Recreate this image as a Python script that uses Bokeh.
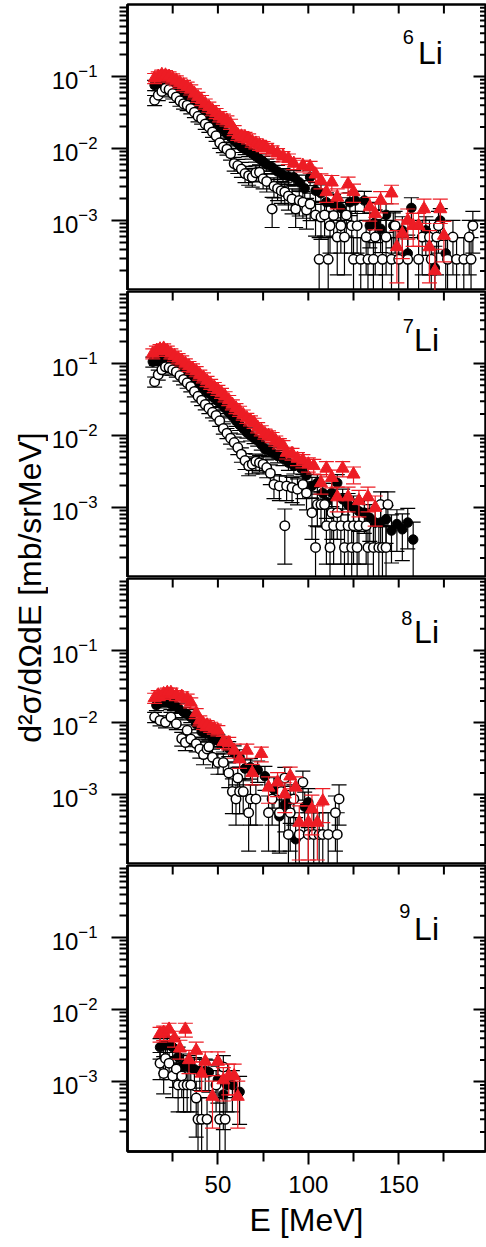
import numpy as np
from bokeh.plotting import figure
from bokeh.models import Range1d, FixedTicker, Label
from bokeh.layouts import row, column
from bokeh.embed import file_html
from bokeh.resources import INLINE
from bokeh.core.properties import value

FONT = "Liberation Sans"
RED = "#ed1c24"

# ---------------- data (E in MeV, d2sigma/dOmega dE in mb/sr MeV) ----------------
panel_names = ["6", "7", "8", "9"]
x_ticks = [50, 100, 150]
x_minor = [25, 75, 125, 175]
y_ticks = [1e-3, 1e-2, 1e-1]

# 6Li
red6_E = [15,17,19,21,23,25,27,29,31,33,35,37,39,41,43,45,47,49,51,53,55,57,59,61,63,65,67,69,71,73,75,77,
          80,83,86,89,92,97,101,104,107,110,113,116,122,125,134,137,140,146,149,152,155,158,161,164,167,170,173,175]
red6_V = [0.095,0.100,0.106,0.104,0.100,0.094,0.088,0.082,0.076,0.072,0.066,0.058,0.052,0.047,0.042,0.038,0.034,0.031,0.028,0.026,
          0.0245,0.022,0.018,0.0155,0.0148,0.0145,0.0138,0.0125,0.0118,0.0112,0.0108,0.0102,
          0.0094,0.0086,0.0078,0.0072,0.0062,0.0058,0.0056,0.0044,0.0036,0.0025,0.0034,0.0021,0.0032,0.0025,
          0.00154,0.00124,0.0019,0.0024,0.00043,0.00066,0.0010,0.00085,0.00085,0.00145,0.00043,0.0002,0.00145,0.00062]
blk6_E = [15,17,19,21,23,25,27,29,31,33,35,37,39,41,43,45,47,49,51,53,55,57,59,61,63,65,67,69,71,73,75,77,
          80,83,86,89,92,95,98,101,104,107,110,114,118,123,126,131,134,137,140,143,147,152,155,157,165,170,173,176]
blk6_V = [0.076,0.082,0.085,0.084,0.080,0.075,0.068,0.062,0.058,0.054,0.048,0.043,0.038,0.034,0.030,0.027,0.024,0.022,0.020,0.018,
          0.016,0.0145,0.013,0.0118,0.0105,0.0098,0.0092,0.0085,0.0078,0.0072,0.0066,0.0060,
          0.0055,0.0048,0.0043,0.0041,0.0040,0.0034,0.0028,0.0040,0.0026,0.0024,0.0018,0.0017,0.0015,0.0018,0.0019,0.0019,
          0.00085,0.00095,0.00077,0.0012,0.00085,0.00073,0.00035,0.0015,0.00073,0.00022,0.0010,0.00035]
open6_E = [15,17,19,21,23,25,27,29,31,33,35,37,39,41,43,45,47,49,51,53,55,57,59,61,63,65,67,69,71,73,75,77,
           80,81,83,85,87,89,91,93,95,97,99,101,104,106,107,109,111,112,114,116,118,120,121,124,125,127,129,
           132,133,136,137,139,141,143,146,148,150,155,161,163,167,168,171,172,177,180,182,186,189,190,191]
open6_V = [0.047,0.055,0.062,0.069,0.066,0.058,0.052,0.046,0.042,0.040,0.036,0.032,0.028,0.026,0.022,0.020,0.017,0.015,0.012,0.0105,
           0.0098,0.0085,0.0062,0.0058,0.0052,0.0045,0.0042,0.0040,0.0046,0.0047,0.0038,0.0035,
           0.00145,0.0030,0.0028,0.0026,0.0025,0.0022,0.0020,0.00145,0.0019,0.0018,0.0014,0.0017,
           0.0012,0.00029,0.00112,0.0012,0.00029,0.00085,0.00118,0.00059,0.00085,0.00059,0.0012,0.00085,0.00029,0.00085,0.00029,
           0.00059,0.00029,0.00029,0.00059,0.0012,0.00029,0.00059,0.00029,0.00085,0.00029,0.00029,0.00029,0.00059,0.00059,
           0.00029,0.00059,0.00085,0.00029,0.00059,0.00029,0.00029,0.00059,0.00029,0.00085]

# 7Li
red7_E = [14,16,18,20,22,24,26,28,30,32,34,36,38,40,42,44,46,48,50,52,54,56,58,60,62,64,66,68,70,72,74,76,78,80,82,84,86,88,
          91,94,97,100,103,107,110,113,116,119,122,125,128,133,137]
red7_V = [0.138,0.150,0.158,0.162,0.150,0.138,0.128,0.118,0.110,0.100,0.092,0.085,0.078,0.070,0.064,0.057,0.052,0.047,0.043,0.039,
          0.035,0.031,0.027,0.024,0.022,0.0195,0.0175,0.0162,0.0150,0.0130,0.0118,0.0106,0.0100,0.0095,0.0085,0.0078,0.0073,0.0058,
          0.0056,0.0048,0.0045,0.0040,0.0038,0.0022,0.0035,0.0026,0.0014,0.0035,0.0014,0.0029,0.00124,0.0014,0.0010]
blk7_E = [14,16,18,20,22,24,26,28,30,32,34,36,38,40,42,44,46,48,50,52,54,56,58,60,62,64,66,68,70,72,74,76,78,80,
          83,86,89,92,96,99,102,105,108,110,113,116,119,122,125,128,131,134,137,140,143,146,149,152,155,158]
blk7_V = [0.106,0.112,0.117,0.115,0.110,0.100,0.092,0.085,0.078,0.072,0.066,0.060,0.055,0.050,0.045,0.041,0.037,0.033,0.030,0.027,
          0.024,0.021,0.0185,0.016,0.0140,0.0125,0.0110,0.0100,0.0092,0.0085,0.0075,0.0065,0.0062,0.0058,
          0.0052,0.0048,0.0042,0.0038,0.0035,0.0028,0.0020,0.0022,0.0016,0.0012,
          0.0016,0.0022,0.0013,0.0011,0.0010,0.00089,0.00085,0.00072,0.00062,0.00062,0.00069,0.00048,0.00059,0.00050,0.00062,0.00036]
open7_E = [15,17,19,21,23,25,27,29,31,33,35,37,39,41,43,45,47,49,51,53,55,57,59,61,63,65,67,69,71,73,75,77,79,81,
           84,87,88,91,94,97,99,102,104,105,107,109,110,112,113,114,116,118,120,122,
           124,125,127,128,132,133,136,139,140,141,143,144]
open7_V = [0.056,0.070,0.082,0.090,0.088,0.082,0.077,0.068,0.060,0.054,0.048,0.041,0.035,0.031,0.027,0.024,0.021,0.019,0.016,0.0125,
           0.0108,0.0092,0.0080,0.0068,0.0055,0.0045,0.0038,0.0040,0.0044,0.0042,0.0040,0.0036,0.0030,0.0021,
           0.0020,0.00056,0.0020,0.0019,0.0018,0.0021,0.0016,0.00085,0.00028,0.0011,
           0.0011,0.0011,0.00056,0.00028,0.00085,0.00056,0.00085,0.00056,0.00028,0.00056,
           0.00028,0.00056,0.00028,0.00056,0.00056,0.00028,0.00028,0.00028,0.0011,0.00028,0.00028,0.0011]

# 8Li
red8_E = [15,17,20,22,24,27,30,33,35,38,40,42,44,46,48,50,53,56,59,62,66,69,74,78,83,87,90,93,95,100,102,105,108]
red8_V = [0.022,0.024,0.025,0.026,0.026,0.024,0.023,0.0214,0.019,0.0135,0.0107,0.0096,0.0092,0.0087,0.0082,0.0078,0.0054,0.0052,
          0.0041,0.0031,0.0041,0.0020,0.0037,0.00126,0.00148,0.00101,0.0018,0.00126,0.00041,0.00041,0.00063,0.00041,0.00081]
blk8_E = [16,18,21,24,26,28,31,33,35,38,41,43,45,48,50,53,56,59,62,65,68,72,76,81,84,87,90,93,98,100]
blk8_V = [0.0174,0.019,0.020,0.018,0.0174,0.016,0.014,0.013,0.0119,0.0095,0.0075,0.0072,0.0070,0.0058,0.0056,0.0050,0.0044,0.0038,
          0.0033,0.0023,0.0024,0.0022,0.0018,0.00118,0.00050,0.00072,0.00085,0.00024,0.00068,0.00078]
open8_E = [15,18,21,24,27,30,32,33,35,38,40,42,44,45,47,50,53,56,58,60,61,62,64,67,68,71,78,80,84,85,
           87,89,90,92,95,97,100,103,106,108,111,115,116,117]
open8_V = [0.0119,0.0107,0.0101,0.0119,0.0096,0.0060,0.0053,0.0078,0.0059,0.0051,0.0043,0.0036,0.0043,0.0046,0.0033,0.0028,0.0028,
           0.0020,0.0011,0.00087,0.0017,0.0011,0.0011,0.00056,0.00087,0.00087,0.00056,0.00087,0.00056,0.0011,
           0.0017,0.00028,0.00056,0.00087,0.00028,0.00148,0.00028,0.00028,0.00028,0.00028,0.00028,0.00056,0.00028,0.00087]

# 9Li
red9_E = [18,20,23,26,29,32,34,38,41,43,47,50,53,56,59,61]
red9_V = [0.0046,0.0048,0.0053,0.0040,0.0029,0.0053,0.0020,0.0027,0.0013,0.0019,0.00062,0.0019,0.00105,0.0012,0.0012,0.00062]
blk9_E = [18,20,22,25,28,31,34,37,40,43,45,50,53,55,58,62]
blk9_V = [0.0030,0.0032,0.0032,0.0030,0.0022,0.0017,0.0016,0.00148,0.0014,0.0014,0.00135,0.00107,0.00066,0.0009,0.0009,0.00072]
open9_E = [18,20,21,23,25,27,28,30,31,33,35,38,39,41,44,49,51,53,54]
open9_V = [0.0018,0.0013,0.0021,0.0018,0.0012,0.0015,0.0009,0.0012,0.0009,0.0009,0.0009,0.00059,0.0003,0.0003,0.0003,0.0009,0.0003,0.0016,0.0003]

# one-count level of each series (sets the statistical error bars): open, filled, triangles
count_unit = {"6": (0.00029, 0.00022, 0.0002), "7": (0.00028, 0.0002, 0.0002),
              "8": (0.00028, 0.00024, 0.0002), "9": (0.0003, 0.0003, 0.00025)}

series = {
    "6": ((open6_E, open6_V), (blk6_E, blk6_V), (red6_E, red6_V)),
    "7": ((open7_E, open7_V), (blk7_E, blk7_V), (red7_E, red7_V)),
    "8": ((open8_E, open8_V), (blk8_E, blk8_V), (red8_E, red8_V)),
    "9": ((open9_E, open9_V), (blk9_E, blk9_V), (red9_E, red9_V)),
}

# label placement: (x of mass number, log10 y of its middle, x of "Li", log10 y of its middle)
label_pos = {"6": (152.3, -0.458, 160.7, -0.68), "7": (152.3, -0.482, 158.5, -0.68),
             "8": (151.4, -0.546, 158.5, -0.746), "9": (150.3, -0.635, 158.5, -0.88)}

X0, X1 = 0, 198
Y0, Y1 = 1.07e-4, 1.0
y_minor = [k * 10.0 ** e for e in (-4, -3, -2, -1) for k in range(2, 10)]


def errbars(p, E, V, unit, color):
    E = np.asarray(E, float)
    V = np.asarray(V, float)
    rel = np.maximum(0.16, np.sqrt(unit / V))
    up = V * (1 + rel)
    lo = V * (1 - rel)
    lo = np.where(lo <= V * 0.03, 1e-7, lo)
    p.segment(E, lo, E, up, line_color=color, line_width=1.2)
    p.scatter(E, up, marker="dash", size=15, line_color=color, line_width=1.2)
    p.scatter(E, lo, marker="dash", size=15, line_color=color, line_width=1.2)


def inward_ticks(p):
    # ticks on the top and right frame edges pointing inward (half of each dash is clipped by the frame)
    tx = x_ticks + x_minor
    p.scatter(tx, [Y1] * len(tx), marker="dash", angle=np.pi / 2, size=18, line_color="black", line_width=2)
    p.scatter([X1] * len(y_ticks), y_ticks, marker="dash", size=24, line_color="black", line_width=2)
    p.scatter([X1] * len(y_minor), y_minor, marker="dash", size=11, line_color="black", line_width=2)


def make_panel(name, height, top, bottom, last):
    p = figure(width=438, height=height, x_range=Range1d(X0, X1), y_range=Range1d(Y0, Y1),
               y_axis_type="log", x_axis_location=("below" if last else None),
               toolbar_location=None, output_backend="svg",
               min_border_left=76, min_border_right=1, min_border_top=top, min_border_bottom=bottom)
    p.xgrid.visible = False
    p.ygrid.visible = False
    p.outline_line_color = "black"
    p.outline_line_width = 2.5
    p.background_fill_color = "white"
    p.border_fill_color = "white"

    # left log axis
    ay = p.yaxis[0]
    ay.ticker = FixedTicker(ticks=y_ticks, minor_ticks=y_minor)
    ay.major_tick_out = 16; ay.major_tick_in = 0
    ay.minor_tick_out = 8; ay.minor_tick_in = 0
    ay.major_tick_line_width = 2; ay.minor_tick_line_width = 2
    ay.axis_line_width = 2.5
    ay.major_label_text_font = FONT
    ay.major_label_text_font_size = "24px"
    ay.major_label_text_color = "black"
    ay.major_label_standoff = 14

    if last:
        ab = p.xaxis[0]
        ab.ticker = FixedTicker(ticks=x_ticks, minor_ticks=x_minor)
        ab.major_tick_out = 13; ab.major_tick_in = 0
        ab.minor_tick_out = 10; ab.minor_tick_in = 0
        ab.major_tick_line_width = 2; ab.minor_tick_line_width = 2
        ab.axis_line_width = 2.5
        ab.major_label_text_font = FONT
        ab.major_label_text_font_size = "24px"
        ab.major_label_text_color = "black"
        ab.major_label_standoff = 11
        ab.axis_label = "E [MeV]"
        ab.axis_label_text_font = FONT
        ab.axis_label_text_font_size = "32px"
        ab.axis_label_text_font_style = "normal"
        ab.axis_label_text_color = "black"
        ab.axis_label_standoff = 6

    inward_ticks(p)

    (oE, oV), (bE, bV), (rE, rV) = series[name]
    u_o, u_b, u_r = count_unit[name]
    errbars(p, bE, bV, u_b, "black")
    errbars(p, oE, oV, u_o, "black")
    p.scatter(bE, bV, marker="circle", size=9.5, fill_color="black", line_color="black", line_width=1)
    p.scatter(oE, oV, marker="circle", size=9.5, fill_color="white", line_color="black", line_width=1.5)
    errbars(p, rE, rV, u_r, RED)
    p.scatter(rE, rV, marker="triangle", size=13, fill_color=RED, line_color=RED, line_width=1)

    sx, sy, lx, ly = label_pos[name]
    p.add_layout(Label(x=sx, y=10 ** sy, text=name, text_font=FONT, text_font_size="20px",
                       text_align="left", text_baseline="middle", text_color="black"))
    p.add_layout(Label(x=lx, y=10 ** ly, text="Li", text_font=FONT, text_font_size="32px",
                       text_align="left", text_baseline="middle", text_color="black"))
    return p


p1 = make_panel("6", 290, 4, 0, False)
p2 = make_panel("7", 287, 1, 0, False)
p3 = make_panel("8", 287, 1, 0, False)
p4 = make_panel("9", 379, 1, 92, True)

H = 290 + 287 + 287 + 379
lab = figure(width=48, height=H, x_range=Range1d(0, 48), y_range=Range1d(0, H),
             x_axis_location=None, y_axis_location=None, toolbar_location=None, output_backend="svg",
             min_border_left=0, min_border_right=0, min_border_top=0, min_border_bottom=0)
lab.grid.visible = False
lab.outline_line_color = None
lab.text(x=[29], y=[H - 587], text=["d\u00b2\u03c3/d\u03a9dE [mb/srMeV]"], angle=np.pi / 2,
         text_align="center", text_baseline="middle", text_font=value(FONT), text_font_size="32px",
         text_color="black")

layout = row(lab, column(p1, p2, p3, p4))
open("out.html", "w").write(file_html(layout, INLINE))
